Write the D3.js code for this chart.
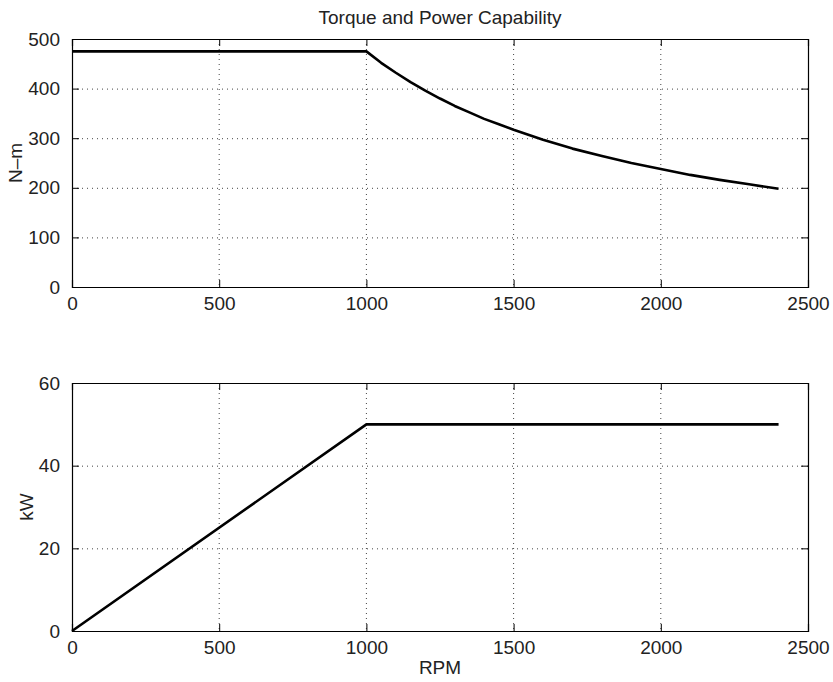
<!DOCTYPE html>
<html>
<head>
<meta charset="utf-8">
<script src="https://cdn.jsdelivr.net/npm/d3@7"></script>
<style>
  body { margin: 0; background: #fff; }
  text { font-family: "Liberation Sans", Arial, Helvetica, sans-serif; fill: #222; }
</style>
</head>
<body>
<svg id="chart" width="833" height="682"></svg>
<script>
// ---- data ----
const rpmTicks = [0, 500, 1000, 1500, 2000, 2500];
const torqueTicks = [0, 100, 200, 300, 400, 500];
const powerTicks = [0, 20, 40, 60];

const torqueRpm = [0, 1000, 1050, 1100, 1150, 1200, 1250, 1300, 1350, 1400, 1450, 1500, 1600, 1700, 1800, 1900, 2000, 2100, 2200, 2300, 2400];
const torqueNm  = [475, 475, 452, 432, 413, 396, 380, 365, 352, 339, 328, 317, 297, 279, 264, 250, 238, 226, 216, 207, 198];

const powerRpm = [0, 1000, 2400];
const powerKw  = [0, 50, 50];

const title = "Torque and Power Capability";
const xLabel = "RPM";
const yLabelTop = "N\u2013m";
const yLabelBottom = "kW";

// ---- layout ----
const svg = d3.select("#chart");
const L = 72, R = 808;
const panels = [
  { top: 39, bottom: 287, yDomain: [0, 500], yTicks: torqueTicks, xs: torqueRpm, ys: torqueNm, ylabel: yLabelTop, ylx: 15 },
  { top: 383, bottom: 631, yDomain: [0, 60], yTicks: powerTicks, xs: powerRpm, ys: powerKw, ylabel: yLabelBottom, ylx: 26 }
];
const tickLen = 7;
const fs = 19;

svg.append("text").attr("x", (L + R) / 2).attr("y", 24).attr("text-anchor", "middle")
  .style("font-size", fs + "px").text(title);

panels.forEach((p, idx) => {
  const x = d3.scaleLinear().domain([0, 2500]).range([L, R]);
  const y = d3.scaleLinear().domain(p.yDomain).range([p.bottom, p.top]);
  const g = svg.append("g");

  // grid
  g.selectAll(".vg").data(rpmTicks.slice(1, -1)).enter().append("line")
    .attr("x1", d => x(d)).attr("x2", d => x(d)).attr("y1", p.top).attr("y2", p.bottom)
    .attr("stroke", "#444").attr("stroke-width", 1).attr("stroke-dasharray", "1,4");
  g.selectAll(".hg").data(p.yTicks.slice(1, -1)).enter().append("line")
    .attr("y1", d => y(d) + 0.5).attr("y2", d => y(d) + 0.5).attr("x1", L).attr("x2", R)
    .attr("stroke", "#444").attr("stroke-width", 1).attr("stroke-dasharray", "1,4");

  // axes with inward ticks
  const xb = d3.axisBottom(x).tickValues(rpmTicks).tickSize(-tickLen).tickFormat(d3.format("d")).tickPadding(10);
  const xt = d3.axisTop(x).tickValues(rpmTicks).tickSize(-tickLen).tickFormat("");
  const yl = d3.axisLeft(y).tickValues(p.yTicks).tickSize(-tickLen).tickFormat(d3.format("d")).tickPadding(12);
  const yr = d3.axisRight(y).tickValues(p.yTicks).tickSize(-tickLen).tickFormat("");

  const gxb = g.append("g").attr("transform", `translate(0,${p.bottom})`).call(xb);
  const gxt = g.append("g").attr("transform", `translate(0,${p.top})`).call(xt);
  const gyl = g.append("g").attr("transform", `translate(${L},0)`).call(yl);
  const gyr = g.append("g").attr("transform", `translate(${R},0)`).call(yr);
  [gxb, gxt, gyl, gyr].forEach(a => {
    a.select(".domain").attr("stroke", "#000").attr("stroke-width", 1.2);
    a.selectAll(".tick line").attr("stroke", "#000");
    a.selectAll("text").style("font-size", fs + "px").style("font-family", "'Liberation Sans', Arial, sans-serif").attr("fill", "#222");
  });

  // line
  const pts = p.xs.map((v, i) => [v, p.ys[i]]);
  g.append("path").datum(pts)
    .attr("d", d3.line().x(d => x(d[0])).y(d => y(d[1])))
    .attr("fill", "none").attr("stroke", "#000").attr("stroke-width", 2.6).attr("stroke-linejoin", "round");

  // y label
  svg.append("text").attr("transform", `translate(${p.ylx},${(p.top + p.bottom) / 2}) rotate(-90)`)
    .attr("text-anchor", "middle").attr("dy", "0.35em").style("font-size", fs + "px").text(p.ylabel);
});

svg.append("text").attr("x", (L + R) / 2).attr("y", 674).attr("text-anchor", "middle")
  .style("font-size", fs + "px").text(xLabel);
</script>
</body>
</html>
